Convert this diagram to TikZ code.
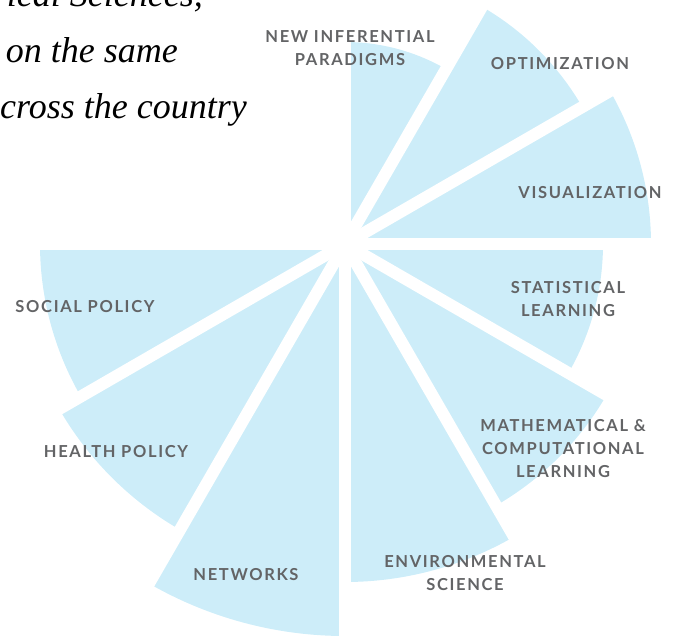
\documentclass[tikz,border=0pt]{standalone}
\usepackage{fontspec}
\newfontfamily\topicfont[LetterSpace=10]{Lato}
\newfontfamily\blurbfont{Liberation Serif}
\definecolor{petalblue}{HTML}{CDEDF9}
\definecolor{topicgray}{HTML}{636466}

\tikzset{
  petal/.style={fill=petalblue},
  spoke/.style={draw=white, line width=12pt},
  topic/.style={font=\topicfont\bfseries\fontsize{16.5}{23}\selectfont,
    text=topicgray, align=center, inner sep=0pt},
  blurb/.style={font=\blurbfont\itshape\fontsize{36}{40}\selectfont, anchor=base east, inner sep=0pt}
}

\begin{document}
\begin{tikzpicture}[x=1pt,y=1pt]
  \useasboundingbox (-345,-391) rectangle (334,244);
  \clip (-345,-391) rectangle (334,244);

  % petals: start angle / end angle / radius
  \foreach \a/\b/\r in {60/90/202, 30/60/274, 0/30/306, -30/0/258,
      -60/-30/302, -90/-60/338, -120/-90/392, -150/-120/330, -180/-150/305}
    \fill[petal] (0,0) -- (\a:\r) arc[start angle=\a, end angle=\b, radius=\r] -- cycle;

  % white spokes between petals
  \foreach \t in {90,60,...,-180}
    \draw[spoke] (0,0) -- (\t:420);

  % topic labels
  \node[topic] (paradigms) at (5,196)     {NEW INFERENTIAL\\PARADIGMS};
  \node[topic] (optim)     at (215,180)   {OPTIMIZATION};
  \node[topic] (visual)    at (245,51)    {VISUALIZATION};
  \node[topic] (statlearn) at (223,-55)   {STATISTICAL\\LEARNING};
  \node[topic] (mathcomp)  at (218,-205)  {MATHEMATICAL \&\\COMPUTATIONAL\\LEARNING};
  \node[topic] (environ)   at (120,-329)  {ENVIRONMENTAL\\SCIENCE};
  \node[topic] (networks)  at (-99,-331)  {NETWORKS};
  \node[topic] (health)    at (-229,-208) {HEALTH POLICY};
  \node[topic] (social)    at (-260,-63)  {SOCIAL POLICY};

  % running text, cut by the page edge
  \node[blurb] (line1) at (-142,237) {ical Sciences,};
  \node[blurb] (line2) at (-167,181) {on the same};
  \node[blurb] (line3) at (-98,126)  {across the country};
\end{tikzpicture}
\end{document}
